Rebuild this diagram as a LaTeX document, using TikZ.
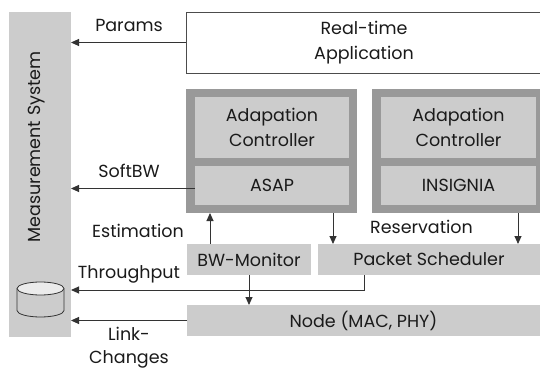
\documentclass[tikz,border=0pt]{standalone}
\usepackage{fontspec}
\setmainfont{Poppins}
\usetikzlibrary{arrows.meta}
\definecolor{lgray}{HTML}{CCCCCC}
\definecolor{dgray}{HTML}{999999}
\definecolor{cyltop}{HTML}{EBEBEB}
\definecolor{ink}{HTML}{1A1A1A}
\definecolor{lnc}{HTML}{333333}
\tikzset{
  box/.style={anchor=north west, inner sep=0pt, outer sep=0pt, fill=lgray, text=ink, align=center, font=\fsz},
  outerbox/.style={anchor=north west, inner sep=0pt, outer sep=0pt, fill=dgray},
  lbl/.style={anchor=base, inner sep=0pt, text=ink, font=\fsz},
  arr/.style={draw=lnc, line width=0.9pt, -{Triangle[length=8pt,width=7pt]}},
  ln/.style={draw=lnc, line width=0.9pt},
}
\newcommand{\fsz}{\fontsize{17.5}{25}\selectfont}
\begin{document}
\begin{tikzpicture}[x=1pt,y=-1pt]
\useasboundingbox (0,0) rectangle (540,374);
\clip (0,0) rectangle (540,374);
% Measurement system
\node[box, minimum width=62pt, minimum height=325pt] (ms) at (9,12) {};
\node[lbl, anchor=center, rotate=90] (mst) at (37,147) {Measurement System};
% Real-time application
\node[box, fill=white, draw=gray!60!black, line width=0.9pt, minimum width=356pt, minimum height=61pt] (rt) at (186,12) {Real-time\\Application};
% ASAP block
\node[outerbox, minimum width=171pt, minimum height=124pt] (asapO) at (186,89) {};
\node[box, minimum width=154pt, minimum height=61pt] (ac1) at (195,97) {Adapation\\Controller};
\node[box, minimum width=154pt, minimum height=39pt] (asap) at (195,166) {ASAP};
% INSIGNIA block
\node[outerbox, minimum width=172pt, minimum height=124pt] (insO) at (372,89) {};
\node[box, minimum width=155pt, minimum height=61pt] (ac2) at (381,97) {Adapation\\Controller};
\node[box, minimum width=155pt, minimum height=39pt] (ins) at (381,166) {INSIGNIA};
% lower boxes
\node[box, minimum width=124pt, minimum height=31pt] (bwm) at (187,244) {BW-Monitor};
\node[box, minimum width=222pt, minimum height=31pt] (ps) at (318,244) {Packet Scheduler};
\node[box, minimum width=353pt, minimum height=31pt] (nd) at (187,305) {Node (MAC, PHY)};
% cylinder
\begin{scope}[shift={(40.5,299.5)}, x=1pt, y=1pt]
  \draw[line width=0.8pt, draw=lnc, fill=lgray] (-23.5,11) -- (-23.5,-11) arc[start angle=180,end angle=360,x radius=23.5,y radius=6.5] -- (23.5,11);
  \draw[line width=0.8pt, draw=lnc, fill=cyltop] (0,11) ellipse[x radius=23.5,y radius=6.5];
\end{scope}
% connectors
\draw[arr] (rt.west) -- (rt.west -| ms.east);
\draw[arr] ([yshift=-3pt]asap.west) -- ([yshift=-3pt]asap.west -| ms.east);
\coordinate (estA) at ([xshift=23pt]bwm.north west);
\draw[arr] (estA) -- (estA |- asapO.south);
\coordinate (resA) at ([xshift=147pt]asapO.south west);
\draw[arr] (resA) -- (resA |- ps.north);
\coordinate (resB) at ([xshift=146pt]insO.south west);
\draw[arr] (resB) -- (resB |- ps.north);
\draw[arr] (bwm.south) -- (bwm.south |- nd.north);
\coordinate (tpA) at ([xshift=46pt]ps.south west);
\coordinate (tpB) at (364,290);
\draw[arr] (tpA) -- (tpB) -- (tpB -| ms.east);
\draw[arr] (nd.west) -- (nd.west -| ms.east);
% labels
\node[lbl] (lpar) at (129,32) {Params};
\node[lbl] (lsbw) at (129,178) {SoftBW};
\node[lbl] (lest) at (138,237) {Estimation};
\node[lbl] (lthr) at (129,278) {Throughput};
\node[lbl] (lres) at (421.5,233) {Reservation};
\node[lbl] (llk1) at (129,340) {Link-};
\node[lbl] (llk2) at (129,363) {Changes};
\end{tikzpicture}
\end{document}
